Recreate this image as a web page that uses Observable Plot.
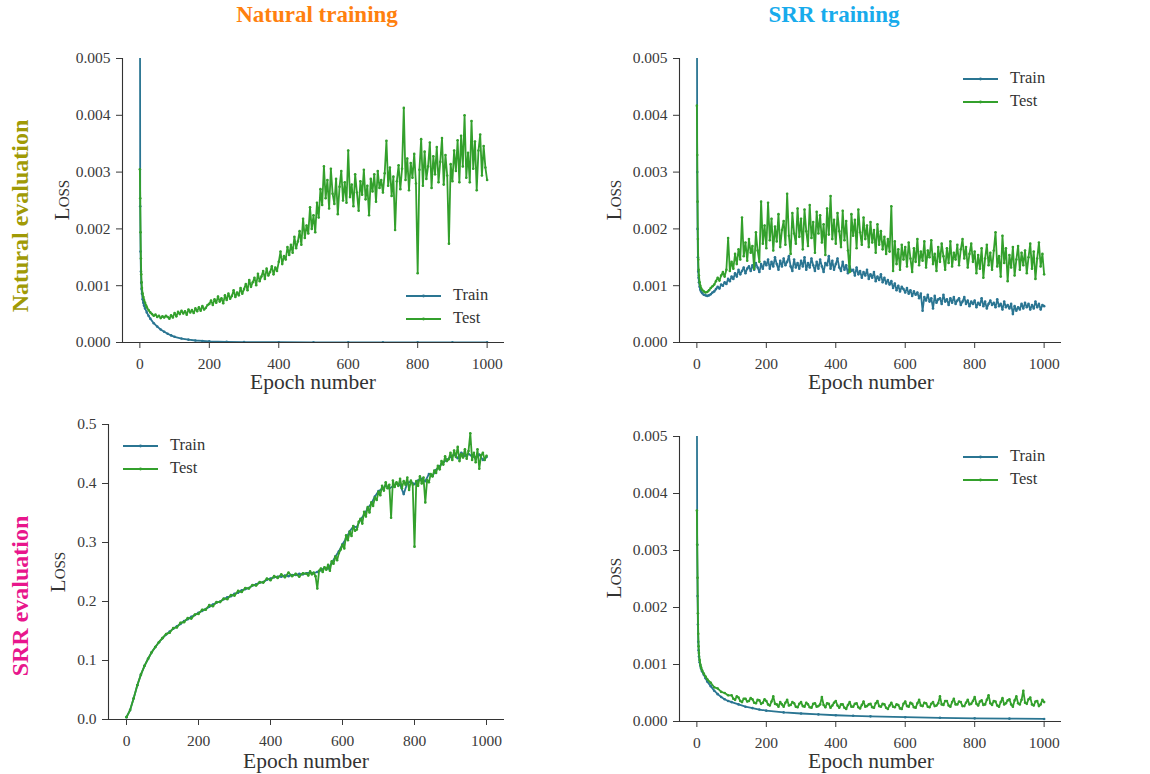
<!DOCTYPE html>
<html>
<head>
<meta charset="utf-8">
<script src="https://cdn.jsdelivr.net/npm/d3@7"></script>
<script src="https://cdn.jsdelivr.net/npm/@observablehq/plot@0.6"></script>
<style>
  html, body { margin: 0; padding: 0; background: #fff; }
  #root { position: relative; width: 1150px; height: 774px; overflow: hidden; font-family: "Liberation Serif", serif; }
  .abs { position: absolute; white-space: nowrap; }
  .c { transform: translate(-50%, -50%); }
  .r { transform: translate(-50%, -50%) rotate(-90deg); }
  .title { font-weight: bold; font-size: 23px; }
  .row { font-weight: bold; font-size: 24px; }
  .ylab { font-size: 21px; font-variant: small-caps; color: #333; }
  .xlab { font-size: 21.5px; color: #333; }
  .leg { font-size: 16.5px; color: #333; }
</style>
</head>
<body>
<div id="root"></div>
<script>
// ---------------- DATA ----------------
const xTicks = [0, 200, 400, 600, 800, 1000];
const xDomain = [-50, 1050];
const smallTicks = [0, 0.001, 0.002, 0.003, 0.004, 0.005];
const largeTicks = [0, 0.1, 0.2, 0.3, 0.4, 0.5];

// Panel A: Natural training / Natural evaluation (loss values ×1e-4)
const trainA_epochs = [0,1,2,3,4,5,6,8,10,12,15,20,25,30,40,50,60,70,80,90,100,120,140,160,180,200,250,300,400,500,600,700,800,900,1000];
const trainA_e4 = [80,24,16,12.5,10.5,9.4,8.6,7.6,7.0,6.5,6.0,5.3,4.7,4.2,3.4,2.8,2.3,1.9,1.55,1.25,1.0,0.7,0.5,0.35,0.27,0.2,0.12,0.08,0.05,0.03,0.025,0.02,0.02,0.015,0.015];
const testA_earlyEpochs = [0,1,2,3,4,5,6,8,10,12,15,18,20,25,30,35,40,45,50,55,60,65,70,75,80,85,90,95];
const testA_early_e4 = [30.5,25.4,19.4,14.8,12.0,10.6,9.6,8.6,8.0,7.5,7.0,6.5,6.2,5.7,5.3,5.0,4.7,4.9,4.5,4.7,4.3,4.6,4.4,4.7,4.5,4.2,4.8,4.4];
const testA_late_e4 = [ // epochs 100..1000 every 5
  5.2,4.6,5.4,5.0,5.6,5.1,5.5,4.9,5.8,5.3,5.7,5.2,6.0,5.5,6.2,5.6,6.4,5.8,6.1,6.6,
  6.8,7.4,6.6,7.6,7.0,8.1,7.2,7.8,6.9,8.3,7.5,8.6,7.7,8.2,9.2,8.0,8.8,8.3,9.6,8.6,
  9.4,10.3,9.2,11.0,9.8,10.6,11.4,10.1,12.1,10.8,11.6,12.6,11.2,13.0,11.8,12.4,13.4,12.0,13.2,12.6,
  14.2,16.0,13.8,15.2,14.6,16.8,15.4,17.2,15.8,18.6,16.6,17.8,19.6,17.2,21.8,18.4,20.6,19.2,23.8,20.0,
  22.4,19.4,24.6,22.0,27.0,24.2,31.0,25.4,28.6,23.6,30.6,26.2,24.4,28.8,22.6,27.4,30.2,25.0,28.2,24.6,
  33.8,25.6,27.8,24.0,29.6,26.4,23.2,28.4,26.0,30.4,25.2,27.6,22.4,28.8,26.6,29.6,24.8,30.2,27.2,28.6,
  26.4,29.8,35.5,27.6,30.8,25.8,29.2,19.8,28.4,31.2,27.0,30.6,41.3,28.6,32.4,26.8,31.6,29.0,33.2,28.0,
  12.2,30.4,35.8,27.6,33.6,28.8,31.0,35.2,27.2,32.8,29.6,34.4,28.2,31.8,36.0,27.8,33.0,29.4,17.4,31.4,
  28.4,33.8,30.2,35.6,28.2,36.4,31.0,40.0,29.0,33.4,28.2,39.0,30.6,35.4,26.8,33.8,36.6,29.4,34.6,30.8,28.6
];

// Panel B: SRR training / Natural evaluation (loss values ×1e-4)
const trainB_earlyEpochs = [0,1,2,3,4,5,6,8,10,12,15,20,25,30,35,40,45];
const trainB_early_e4 = [70,30,20,15,12.5,11.4,10.6,9.8,9.3,9.0,8.7,8.4,8.3,8.2,8.3,8.5,8.8];
const trainB_late_e4 = [ // epochs 50..1000 every 5
  9.0,9.4,9.8,9.5,10.2,10.0,10.6,10.3,11.2,10.8,
  11.6,11.2,12.2,11.6,12.8,12.0,12.6,13.2,12.2,13.0,
  13.4,12.6,13.6,12.8,14.0,13.2,12.4,13.8,13.0,14.2,
  13.6,14.6,13.0,14.2,13.4,15.0,13.8,12.8,14.4,13.4,
  14.8,13.6,14.2,15.2,13.4,12.6,14.6,13.2,14.0,13.0,
  14.4,13.4,15.0,12.8,14.0,13.2,14.8,13.6,12.6,14.2,
  13.0,14.6,13.4,12.4,14.0,13.6,15.2,13.0,14.4,12.8,
  13.8,14.8,13.2,12.6,14.2,12.8,13.6,12.2,13.4,12.6,
  12.8,11.8,13.2,12.0,12.6,11.4,12.4,11.8,12.8,11.2,
  12.0,11.4,12.4,10.8,11.6,11.0,12.0,10.6,11.4,10.4,
  11.0,10.2,10.8,9.6,10.4,9.2,10.0,9.0,9.8,9.4,
  8.8,9.6,8.6,9.2,8.2,9.0,8.4,8.8,7.8,8.6,
  5.6,8.0,7.4,8.4,7.2,7.8,6.0,8.2,7.0,7.6,
  7.8,6.8,8.4,7.2,7.6,6.6,7.8,7.0,8.0,6.8,
  7.4,7.8,6.6,7.2,8.0,6.8,7.4,6.4,7.2,6.8,
  7.4,6.2,7.0,6.6,7.8,6.4,7.2,6.0,6.8,7.4,
  6.6,7.0,6.2,7.6,6.4,6.8,5.8,7.2,6.2,6.6,
  6.0,6.8,5.0,6.4,5.6,6.2,5.8,6.8,6.0,7.0,
  6.2,6.8,5.8,6.6,6.0,7.2,6.2,6.8,5.8,6.6,
  6.4
];
const testB_earlyEpochs = [0,1,2,3,4,5,6,8,10,12,15,20,25,30,35,40,45];
const testB_early_e4 = [41.7,33.0,24.8,18.2,14.6,12.8,11.8,10.6,10.0,9.6,9.3,9.0,8.8,8.9,9.2,9.6,9.9];
const testB_late_e4 = [ // epochs 50..1000 every 5
  10.2,10.8,11.4,10.9,11.8,12.4,11.6,12.8,18.4,12.6,
  14.2,13.0,15.6,13.8,16.4,14.6,22.0,15.2,17.6,14.4,
  18.2,15.8,17.0,13.0,19.4,16.2,14.2,24.8,17.4,20.6,
  16.6,24.6,18.0,21.8,16.2,20.4,17.8,22.6,16.8,19.8,
  21.4,17.2,26.2,18.8,15.6,22.8,19.2,17.4,23.6,18.6,
  21.8,16.4,23.4,19.6,17.0,24.2,18.4,21.2,15.8,23.0,
  19.2,22.4,17.6,20.8,15.4,23.6,19.0,25.8,18.2,21.6,
  17.4,22.8,19.6,16.8,23.2,18.0,21.4,16.2,12.4,22.6,
  18.8,21.6,16.6,23.4,19.4,17.2,22.0,18.2,20.6,16.8,
  21.2,17.6,19.8,15.8,20.8,17.2,19.6,16.4,18.6,15.6,
  18.2,16.0,24.0,12.6,17.8,13.8,16.4,12.8,17.2,14.6,
  16.8,13.4,17.6,14.8,12.4,16.6,14.2,18.2,13.6,16.0,
  14.4,17.8,13.2,16.2,15.0,18.0,13.8,15.6,12.6,16.8,
  14.2,17.4,15.2,12.8,16.6,14.0,17.8,13.4,15.8,14.6,
  17.2,13.6,16.4,18.2,14.8,16.8,13.2,15.6,17.4,14.2,
  16.0,12.2,15.4,13.0,16.6,11.4,14.8,17.2,13.6,15.8,
  12.8,16.2,19.4,13.4,15.2,11.6,18.8,14.0,16.6,10.8,
  15.4,13.2,16.8,11.8,14.6,17.0,12.8,15.8,13.6,16.2,
  12.2,15.0,17.4,13.0,16.0,11.2,14.8,17.6,13.4,15.6,
  12.0
];

// Panel C: Natural training / SRR evaluation (loss values)
const trainC = [ // epochs 0..1000 every 10
  0.004,0.016,0.036,0.058,0.076,0.091,0.103,0.114,0.123,0.131,
  0.138,0.144,0.149,0.154,0.158,0.162,0.167,0.170,0.174,0.177,
  0.181,0.184,0.187,0.191,0.195,0.198,0.200,0.204,0.207,0.209,
  0.213,0.215,0.219,0.221,0.223,0.227,0.229,0.232,0.233,0.237,
  0.239,0.241,0.242,0.242,0.244,0.243,0.245,0.245,0.247,0.246,
  0.248,0.249,0.248,0.250,0.253,0.257,0.256,0.265,0.276,0.285,
  0.297,0.307,0.319,0.327,0.326,0.339,0.347,0.358,0.366,0.378,
  0.387,0.391,0.396,0.392,0.395,0.400,0.398,0.382,0.401,0.403,
  0.399,0.405,0.408,0.404,0.416,0.413,0.423,0.429,0.436,0.440,
  0.445,0.449,0.443,0.452,0.447,0.450,0.446,0.444,0.449,0.440,
  0.445
];
const testC_early = [ // epochs 0..490 every 10
  0.004,0.016,0.036,0.058,0.076,0.091,0.103,0.114,0.123,0.131,
  0.138,0.145,0.147,0.155,0.156,0.164,0.165,0.172,0.171,0.178,
  0.179,0.186,0.186,0.194,0.192,0.199,0.199,0.205,0.204,0.211,
  0.210,0.218,0.216,0.223,0.222,0.228,0.227,0.233,0.232,0.239,
  0.236,0.243,0.240,0.246,0.241,0.249,0.243,0.247,0.242,0.248
];
const testC_late = [ // epochs 500..1000 every 5
  0.247,0.244,0.251,0.246,0.249,0.243,0.222,0.252,0.256,0.250,
  0.258,0.254,0.262,0.252,0.268,0.264,0.276,0.270,0.282,0.288,
  0.296,0.290,0.312,0.304,0.318,0.311,0.328,0.320,0.322,0.335,
  0.340,0.332,0.352,0.344,0.360,0.351,0.368,0.362,0.376,0.372,
  0.386,0.380,0.396,0.388,0.402,0.392,0.398,0.342,0.405,0.394,
  0.402,0.396,0.408,0.392,0.404,0.398,0.410,0.389,0.405,0.398,
  0.293,0.404,0.396,0.412,0.400,0.410,0.368,0.406,0.402,0.416,
  0.412,0.422,0.418,0.430,0.424,0.438,0.432,0.446,0.438,0.441,
  0.452,0.440,0.456,0.445,0.462,0.438,0.450,0.444,0.458,0.442,
  0.455,0.485,0.440,0.452,0.436,0.458,0.425,0.448,0.452,0.440,
  0.447
];

// Panel D: SRR training / SRR evaluation (loss values ×1e-4)
const trainD_epochs = [0,1,2,3,4,5,6,8,10,12,15,20,25,30,40,50,60,70,80,90,100,120,140,160,180,200,250,300,350,400,450,500,600,700,800,900,1000];
const trainD_e4 = [60,31,22,17,14,12.5,11.4,10.4,9.8,9.3,8.8,8.2,7.6,7.0,6.2,5.4,4.8,4.3,3.9,3.6,3.4,3.0,2.6,2.35,2.1,1.9,1.6,1.4,1.25,1.1,1.0,0.9,0.75,0.65,0.55,0.5,0.45];
const testD_earlyEpochs = [0,1,2,3,4,5,6,8,10,12,15,20,25,30,40,50,60,70,80,90];
const testD_early_e4 = [37.0,31.0,25.2,19.0,15.4,13.2,12.0,10.8,10.0,9.5,9.0,8.4,7.9,7.4,6.8,6.0,5.8,5.2,5.0,4.6];
const testD_late_e4 = [ // epochs 100..1000 every 5
  4.6,4.0,3.8,4.4,4.2,3.6,3.4,4.0,4.0,3.5,3.6,4.1,3.9,3.3,3.2,3.8,3.7,3.1,3.3,3.9,
  3.6,3.0,2.8,3.5,4.4,3.1,3.0,2.6,3.4,3.0,2.6,3.3,3.8,2.8,2.9,3.4,3.2,2.6,2.5,3.1,
  3.4,2.7,2.6,3.3,3.0,2.5,2.4,3.1,3.2,2.6,2.7,3.0,4.3,2.9,2.5,3.2,3.1,2.4,2.8,3.3,
  3.6,2.8,2.4,3.0,3.0,2.4,2.2,2.9,3.4,2.6,2.6,3.1,3.2,2.5,2.3,2.9,3.5,2.6,2.7,3.0,
  3.1,2.5,2.4,3.2,3.6,2.7,2.6,3.1,3.0,2.4,2.2,2.8,3.3,2.6,2.5,3.0,2.9,2.3,2.2,3.1,
  3.5,2.7,2.6,3.3,3.1,2.5,2.4,3.2,3.8,2.8,2.7,3.3,3.2,2.6,2.5,3.1,3.4,2.7,2.8,3.2,
  4.4,3.0,2.9,3.6,3.6,2.8,2.6,3.4,4.0,3.0,3.0,3.5,3.4,2.7,2.7,3.3,3.8,3.0,3.1,3.6,
  4.3,3.1,2.8,3.5,3.7,2.9,3.0,3.8,4.6,3.2,2.9,3.6,3.5,2.8,2.6,3.4,4.1,3.0,3.2,3.7,
  3.9,3.0,2.6,3.7,4.4,3.2,3.0,3.8,5.4,3.3,3.1,3.9,4.2,3.0,2.8,3.5,3.6,2.7,3.0,3.8,3.4
];

// ---------------- BUILD ----------------
const TRAIN = "#2a7592", TEST = "#33a02c";
const E4 = 1e-4; // unit of the *_e4 arrays
const pairs = (epochs, vals, unit = 1) => epochs.map((e, i) => ({epoch: e, loss: vals[i] * unit}));
const stepped = (start, step, vals, unit = 1) => vals.map((v, i) => ({epoch: start + i * step, loss: v * unit}));

const panels = [
  { left: 0, top: 40, width: 520, height: 360, mL: 122, mR: 16, mT: 18, mB: 58,
    yDomain: [0, 0.005], yTicks: smallTicks, fmt: ".3f",
    train: pairs(trainA_epochs, trainA_e4, E4),
    test: pairs(testA_earlyEpochs, testA_early_e4, E4).concat(stepped(100, 5, testA_late_e4, E4)) },
  { left: 580, top: 40, width: 500, height: 360, mL: 99, mR: 19, mT: 18, mB: 58,
    yDomain: [0, 0.005], yTicks: smallTicks, fmt: ".3f",
    train: pairs(trainB_earlyEpochs, trainB_early_e4, E4).concat(stepped(50, 5, trainB_late_e4, E4)),
    test: pairs(testB_earlyEpochs, testB_early_e4, E4).concat(stepped(50, 5, testB_late_e4, E4)) },
  { left: 0, top: 400, width: 520, height: 374, mL: 108, mR: 16, mT: 24, mB: 55,
    yDomain: [0, 0.5], yTicks: largeTicks, fmt: ".1f",
    train: stepped(0, 10, trainC),
    test: stepped(0, 10, testC_early).concat(stepped(500, 5, testC_late)) },
  { left: 580, top: 400, width: 500, height: 374, mL: 99, mR: 19, mT: 36, mB: 53,
    yDomain: [0, 0.005], yTicks: smallTicks, fmt: ".3f",
    train: pairs(trainD_epochs, trainD_e4, E4),
    test: pairs(testD_earlyEpochs, testD_early_e4, E4).concat(stepped(100, 5, testD_late_e4, E4)) }
];

const root = document.getElementById("root");

for (const p of panels) {
  const chart = Plot.plot({
    width: p.width, height: p.height,
    marginLeft: p.mL, marginRight: p.mR, marginTop: p.mT, marginBottom: p.mB,
    style: { fontFamily: "Liberation Serif, serif", fontSize: "15.5px", color: "#3a3a3a", background: "transparent", overflow: "visible" },
    x: { domain: xDomain, ticks: xTicks, tickSize: 6, tickPadding: 9, label: null, tickFormat: d3.format("d") },
    y: { domain: p.yDomain, ticks: p.yTicks, tickSize: 6, tickPadding: 6, label: null, tickFormat: d3.format(p.fmt) },
    marks: [
      Plot.line(p.train, { x: "epoch", y: "loss", stroke: TRAIN, strokeWidth: 1.8, clip: true }),
      Plot.dot(p.train, { x: "epoch", y: "loss", fill: TRAIN, r: 1.3, clip: true }),
      Plot.line(p.test, { x: "epoch", y: "loss", stroke: TEST, strokeWidth: 1.8, clip: true }),
      Plot.dot(p.test, { x: "epoch", y: "loss", fill: TEST, r: 1.3, clip: true }),
      Plot.ruleX([xDomain[0]], { stroke: "#333", strokeWidth: 1.1 }),
      Plot.ruleY([p.yDomain[0]], { stroke: "#333", strokeWidth: 1.1 })
    ]
  });
  chart.style.position = "absolute";
  chart.style.left = p.left + "px";
  chart.style.top = p.top + "px";
  root.appendChild(chart);
}

// ---------------- TEXT ----------------
function label(text, x, y, cls, color) {
  const d = document.createElement("div");
  d.className = "abs " + cls;
  d.textContent = text;
  d.style.left = x + "px";
  d.style.top = y + "px";
  if (color) d.style.color = color;
  root.appendChild(d);
}
label("Natural training", 317, 15, "c title", "#ff800e");
label("SRR training", 834, 15, "c title", "#18abec");
label("Natural evaluation", 20, 216, "r row", "#a09a05");
label("SRR evaluation", 20, 596, "r row", "#e8168c");
label("Loss", 62, 200, "r ylab");
label("Loss", 614, 200, "r ylab");
label("Loss", 58, 572, "r ylab");
label("Loss", 614, 578, "r ylab");
label("Epoch number", 313, 382, "c xlab");
label("Epoch number", 871, 382, "c xlab");
label("Epoch number", 306, 761, "c xlab");
label("Epoch number", 871, 761, "c xlab");

const legendItems = [["Train", TRAIN], ["Test", TEST]];
function legend(x, y) {
  legendItems.forEach(([name, color], i) => {
    const yy = y + i * 23;
    const s = document.createElementNS("http://www.w3.org/2000/svg", "svg");
    s.setAttribute("width", 36); s.setAttribute("height", 6);
    s.style.position = "absolute"; s.style.left = x + "px"; s.style.top = (yy - 3) + "px";
    s.innerHTML = `<line x1="0" y1="3" x2="35" y2="3" stroke="${color}" stroke-width="1.8"/><circle cx="17.5" cy="3" r="1.4" fill="${color}"/>`;
    root.appendChild(s);
    const t = document.createElement("div");
    t.className = "abs leg";
    t.textContent = name;
    t.style.left = (x + 47) + "px";
    t.style.top = (yy - 11) + "px";
    root.appendChild(t);
  });
}
legend(406, 296);
legend(963, 79);
legend(123, 446);
legend(963, 457);
</script>
</body>
</html>
